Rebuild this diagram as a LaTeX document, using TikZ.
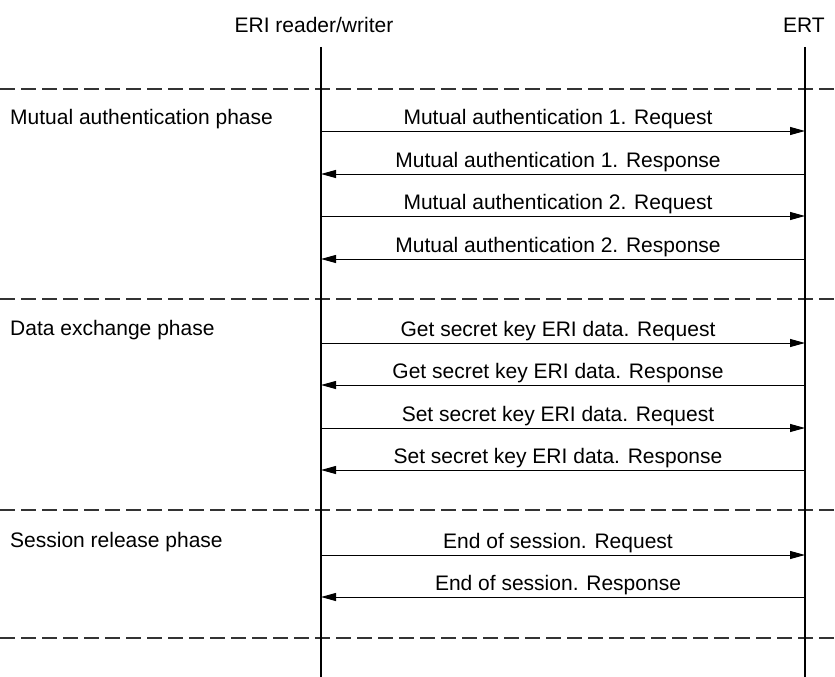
\documentclass[tikz,border=0pt]{standalone}
\usepackage{fontspec}
\setmainfont{Liberation Sans}
\usepackage{tikz}
\usetikzlibrary{arrows.meta}

\begin{document}
\begin{tikzpicture}[x=1pt,y=-1pt,font=\fontsize{21}{25}\selectfont]
		\useasboundingbox (0,0) rectangle (835,677);
		% lifelines
		\node[anchor=base,inner sep=0pt] (RW) at (314,33) {ERI reader/writer};
		\node[anchor=base,inner sep=0pt] (ERT) at (804,33) {ERT};
		\coordinate (RWtop) at (321,47);
		\coordinate (RWbot) at (321,677);
		\coordinate (ERTtop) at (805,47);
		\coordinate (ERTbot) at (805,677);
		%
		\coordinate (S1l) at (0,89);   \coordinate (S1r) at (835,89);
		\coordinate (S2l) at (0,299);  \coordinate (S2r) at (835,299);
		\coordinate (S3l) at (0,510);  \coordinate (S3r) at (835,510);
		\coordinate (S4l) at (0,638);  \coordinate (S4r) at (835,638);
		%
		\node[anchor=base west,inner sep=0pt] (P1) at (10,124) {Mutual authentication phase};
		\node[anchor=base west,inner sep=0pt] (P2) at (10,335) {Data exchange phase};
		\node[anchor=base west,inner sep=0pt] (P3) at (10,547) {Session release phase};
		%
		\coordinate (A1) at (321,131); \coordinate (B1) at (805,131);
		\coordinate (A2) at (321,174); \coordinate (B2) at (805,174);
		\coordinate (A3) at (321,216); \coordinate (B3) at (805,216);
		\coordinate (A4) at (321,259); \coordinate (B4) at (805,259);
		\coordinate (A5) at (321,343); \coordinate (B5) at (805,343);
		\coordinate (A6) at (321,385); \coordinate (B6) at (805,385);
		\coordinate (A7) at (321,428); \coordinate (B7) at (805,428);
		\coordinate (A8) at (321,470); \coordinate (B8) at (805,470);
		\coordinate (A9) at (321,555); \coordinate (B9) at (805,555);
		\coordinate (A10) at (321,597); \coordinate (B10) at (805,597);
		%
		\path[draw=black!80,line width=1.4pt,dash pattern=on 15pt off 6pt]
		(S1l) edge (S1r)
		(S2l) edge (S2r)
		(S3l) edge (S3r)
		(S4l) edge (S4r);
		\path[line width=2.5pt]
		(RWtop) edge (RWbot)
		(ERTtop) edge (ERTbot);
		%
		\path[-{Triangle[length=15pt,width=8pt]},line width=1pt,every node/.style={anchor=base,xshift=-5pt,yshift=7pt,inner sep=0pt}]
		(A1) edge node{Mutual authentication 1. Request} (B1)
		(B2) edge node{Mutual authentication 1. Response} (A2)
		(A3) edge node{Mutual authentication 2. Request} (B3)
		(B4) edge node{Mutual authentication 2. Response} (A4)
		(A5) edge node{Get secret key ERI data. Request} (B5)
		(B6) edge node{Get secret key ERI data. Response} (A6)
		(A7) edge node{Set secret key ERI data. Request} (B7)
		(B8) edge node{Set secret key ERI data. Response} (A8)
		(A9) edge node{End of session. Request} (B9)
		(B10) edge node{End of session. Response} (A10);
	\end{tikzpicture}
\end{document}
